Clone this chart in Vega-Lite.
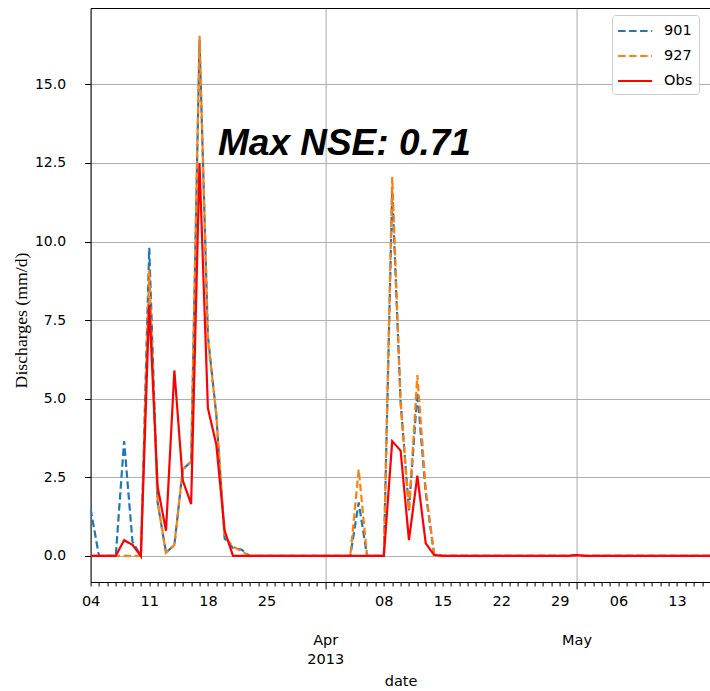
{
  "$schema": "https://vega.github.io/schema/vega-lite/v6.json",
  "width": 620,
  "height": 574,
  "autosize": {"type": "none"},
  "padding": {"left": 90.6, "top": 8, "right": 0, "bottom": 109},
  "background": "white",
  "config": {
    "view": {"stroke": null},
    "font": "DejaVu Sans",
    "axis": {"domainColor": "#000000", "domainWidth": 1.1, "tickColor": "#000000", "labelColor": "#000000", "titleColor": "#000000", "gridColor": "#b0b0b0", "gridWidth": 1.1, "labelFont": "DejaVu Sans", "titleFontWeight": "normal"},
    "legend": {"orient": "none", "legendX": 521.5, "legendY": 7, "padding": 6, "fillColor": "rgba(255,255,255,0.8)", "strokeColor": "#cccccc", "cornerRadius": 3, "symbolType": "M-2,0H2", "symbolSize": 289, "symbolStrokeWidth": 2.2, "symbolOffset": 7, "labelOffset": 19, "rowPadding": 8, "labelFont": "DejaVu Sans", "labelFontSize": 14.5, "labelColor": "#000000", "title": null}
  },
  "datasets": {
    "flows": [
      {"date": "2013/03/04", "901": 1.5, "927": 0, "Obs": 0},
      {"date": "2013/03/05", "901": 0, "927": 0, "Obs": 0},
      {"date": "2013/03/06", "901": 0, "927": 0, "Obs": 0},
      {"date": "2013/03/07", "901": 0, "927": 0, "Obs": 0},
      {"date": "2013/03/08", "901": 3.65, "927": 0, "Obs": 0.5},
      {"date": "2013/03/09", "901": 0.45, "927": 0, "Obs": 0.35},
      {"date": "2013/03/10", "901": 0, "927": 0, "Obs": 0},
      {"date": "2013/03/11", "901": 9.8, "927": 9.1, "Obs": 8.0},
      {"date": "2013/03/12", "901": 1.7, "927": 1.7, "Obs": 2.2},
      {"date": "2013/03/13", "901": 0.1, "927": 0.1, "Obs": 0.8},
      {"date": "2013/03/14", "901": 0.35, "927": 0.35, "Obs": 5.9},
      {"date": "2013/03/15", "901": 2.75, "927": 2.75, "Obs": 2.4},
      {"date": "2013/03/16", "901": 3.0, "927": 3.0, "Obs": 1.65},
      {"date": "2013/03/17", "901": 16.4, "927": 16.55, "Obs": 12.5},
      {"date": "2013/03/18", "901": 7.0, "927": 6.9, "Obs": 4.7},
      {"date": "2013/03/19", "901": 4.5, "927": 4.5, "Obs": 3.55},
      {"date": "2013/03/20", "901": 0.55, "927": 0.6, "Obs": 0.8},
      {"date": "2013/03/21", "901": 0.25, "927": 0.3, "Obs": 0},
      {"date": "2013/03/22", "901": 0.2, "927": 0.15, "Obs": 0},
      {"date": "2013/03/23", "901": 0, "927": 0, "Obs": 0},
      {"date": "2013/03/24", "901": 0, "927": 0, "Obs": 0},
      {"date": "2013/03/25", "901": 0, "927": 0, "Obs": 0},
      {"date": "2013/03/26", "901": 0, "927": 0, "Obs": 0},
      {"date": "2013/03/27", "901": 0, "927": 0, "Obs": 0},
      {"date": "2013/03/28", "901": 0, "927": 0, "Obs": 0},
      {"date": "2013/03/29", "901": 0, "927": 0, "Obs": 0},
      {"date": "2013/03/30", "901": 0, "927": 0, "Obs": 0},
      {"date": "2013/03/31", "901": 0, "927": 0, "Obs": 0},
      {"date": "2013/04/01", "901": 0, "927": 0, "Obs": 0},
      {"date": "2013/04/02", "901": 0, "927": 0, "Obs": 0},
      {"date": "2013/04/03", "901": 0, "927": 0, "Obs": 0},
      {"date": "2013/04/04", "901": 0, "927": 0, "Obs": 0},
      {"date": "2013/04/05", "901": 1.7, "927": 2.75, "Obs": 0},
      {"date": "2013/04/06", "901": 0, "927": 0, "Obs": 0},
      {"date": "2013/04/07", "901": 0, "927": 0, "Obs": 0},
      {"date": "2013/04/08", "901": 0, "927": 0, "Obs": 0},
      {"date": "2013/04/09", "901": 11.6, "927": 12.05, "Obs": 3.65},
      {"date": "2013/04/10", "901": 4.9, "927": 4.9, "Obs": 3.35},
      {"date": "2013/04/11", "901": 1.45, "927": 1.45, "Obs": 0.5},
      {"date": "2013/04/12", "901": 5.2, "927": 5.75, "Obs": 2.55},
      {"date": "2013/04/13", "901": 2.0, "927": 2.1, "Obs": 0.4},
      {"date": "2013/04/14", "901": 0.05, "927": 0.05, "Obs": 0.03},
      {"date": "2013/04/15", "901": 0, "927": 0, "Obs": 0},
      {"date": "2013/04/16", "901": 0, "927": 0, "Obs": 0},
      {"date": "2013/04/17", "901": 0, "927": 0, "Obs": 0},
      {"date": "2013/04/18", "901": 0, "927": 0, "Obs": 0},
      {"date": "2013/04/19", "901": 0, "927": 0, "Obs": 0},
      {"date": "2013/04/20", "901": 0, "927": 0, "Obs": 0},
      {"date": "2013/04/21", "901": 0, "927": 0, "Obs": 0},
      {"date": "2013/04/22", "901": 0, "927": 0, "Obs": 0},
      {"date": "2013/04/23", "901": 0, "927": 0, "Obs": 0},
      {"date": "2013/04/24", "901": 0, "927": 0, "Obs": 0},
      {"date": "2013/04/25", "901": 0, "927": 0, "Obs": 0},
      {"date": "2013/04/26", "901": 0, "927": 0, "Obs": 0},
      {"date": "2013/04/27", "901": 0, "927": 0, "Obs": 0},
      {"date": "2013/04/28", "901": 0, "927": 0, "Obs": 0},
      {"date": "2013/04/29", "901": 0, "927": 0, "Obs": 0},
      {"date": "2013/04/30", "901": 0, "927": 0, "Obs": 0},
      {"date": "2013/05/01", "901": 0.02, "927": 0.02, "Obs": 0.03},
      {"date": "2013/05/02", "901": 0, "927": 0, "Obs": 0},
      {"date": "2013/05/03", "901": 0, "927": 0, "Obs": 0},
      {"date": "2013/05/04", "901": 0, "927": 0, "Obs": 0},
      {"date": "2013/05/05", "901": 0, "927": 0, "Obs": 0},
      {"date": "2013/05/06", "901": 0, "927": 0, "Obs": 0},
      {"date": "2013/05/07", "901": 0, "927": 0, "Obs": 0},
      {"date": "2013/05/08", "901": 0, "927": 0, "Obs": 0},
      {"date": "2013/05/09", "901": 0, "927": 0, "Obs": 0},
      {"date": "2013/05/10", "901": 0, "927": 0, "Obs": 0},
      {"date": "2013/05/11", "901": 0, "927": 0, "Obs": 0},
      {"date": "2013/05/12", "901": 0, "927": 0, "Obs": 0},
      {"date": "2013/05/13", "901": 0, "927": 0, "Obs": 0},
      {"date": "2013/05/14", "901": 0, "927": 0, "Obs": 0},
      {"date": "2013/05/15", "901": 0, "927": 0, "Obs": 0},
      {"date": "2013/05/16", "901": 0, "927": 0, "Obs": 0},
      {"date": "2013/05/17", "901": 0, "927": 0, "Obs": 0}
    ],
    "annot": [
      {"date": "2013/03/19 05:00", "value": 12.75, "label": "Max NSE: 0.71"}
    ]
  },
  "layer": [
    {
      "data": {"name": "flows"},
      "transform": [{"fold": ["901", "927", "Obs"], "as": ["series", "value"]}],
      "mark": {"type": "line", "strokeWidth": 2.2, "clip": true},
      "encoding": {
        "x": {
          "field": "date", "type": "temporal",
          "scale": {"domain": ["2013/03/04", "2013/05/17"], "nice": false},
          "axis": {
            "orient": "bottom",
            "tickCount": {"interval": "day", "step": 1},
            "labelExpr": "date(datum.value) == 1 ? (month(datum.value) == 3 ? ['Apr', '2013'] : ['May']) : (day(datum.value) == 1 ? timeFormat(datum.value, '%d') : '')",
            "labelOverlap": false,
            "labelFlush": false,
            "labelBound": false,
            "labelFontSize": 14.5,
            "labelLineHeight": 18.5,
            "labelPadding": {"condition": {"test": "date(datum.value) == 1", "value": 45}, "value": 9},
            "tickSize": {"condition": {"test": "date(datum.value) == 1", "value": 7}, "value": 4},
            "grid": true,
            "gridOpacity": {"condition": {"test": "date(datum.value) == 1", "value": 1}, "value": 0},
            "title": "date",
            "titleFont": "DejaVu Sans",
            "titleFontSize": 14.5,
            "titleBaseline": "middle",
            "titleY": 100
          }
        },
        "y": {
          "field": "value", "type": "quantitative",
          "scale": {"domain": [-0.83, 17.43], "nice": false, "zero": false},
          "axis": {
            "values": [0, 2.5, 5, 7.5, 10, 12.5, 15],
            "format": ".1f",
            "labelFontSize": 14,
            "tickSize": 6,
            "labelPadding": 19,
            "grid": true,
            "title": "Discharges (mm/d)",
            "titleFont": "Liberation Serif",
            "titleFontSize": 17.7,
            "titleBaseline": "middle",
            "titleX": -69,
            "titleY": 312
          }
        },
        "color": {
          "field": "series", "type": "nominal",
          "scale": {"domain": ["901", "927", "Obs"], "range": ["#1f77b4", "#ff7f0e", "#ff0000"]},
          "legend": {"title": null}
        },
        "strokeDash": {
          "field": "series", "type": "nominal",
          "scale": {"domain": ["901", "927", "Obs"], "range": [[7.5, 3.5], [7.5, 3.5], [1, 0]]},
          "legend": {"title": null}
        }
      }
    },
    {
      "data": {"name": "annot"},
      "mark": {"type": "text", "font": "Liberation Sans", "fontSize": 37, "fontStyle": "italic", "fontWeight": "bold", "align": "left", "baseline": "alphabetic", "color": "#000000"},
      "encoding": {
        "x": {
          "field": "date", "type": "temporal",
          "axis": {"orient": "top", "labels": false, "ticks": false, "grid": false, "title": null, "domain": true}
        },
        "y": {"field": "value", "type": "quantitative"},
        "text": {"field": "label"}
      }
    }
  ]
}
